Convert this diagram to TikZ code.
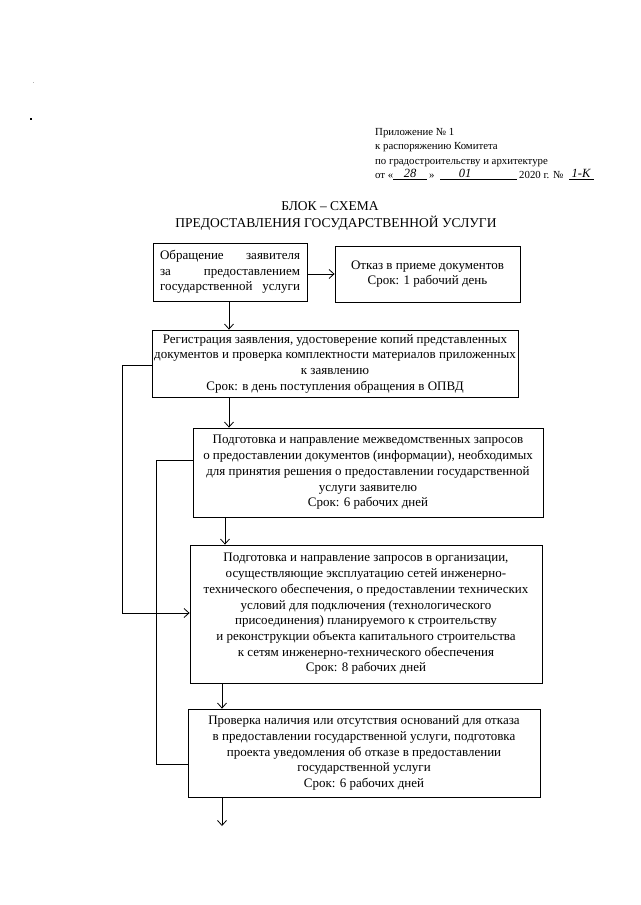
\documentclass[tikz,border=0pt]{standalone}
\usepackage{fontspec}
\setmainfont{Liberation Serif}
\usetikzlibrary{arrows.meta}
\tikzset{
  box/.style={draw, line width=0.8pt, align=center, font=\fontsize{13}{15.7}\selectfont, inner sep=2pt},
  conn/.style={line width=0.8pt},
  arr/.style={line width=0.8pt, -{Straight Barb[length=5pt,width=9pt]}},
  hdr/.style={anchor=base west, font=\fontsize{10.8}{12}\selectfont, inner sep=0pt},
  hand/.style={anchor=base, font=\itshape\fontsize{12.5}{12}\selectfont, inner sep=0pt},
  ttl/.style={anchor=base, font=\fontsize{13.5}{16}\selectfont, inner sep=0pt}
}
\begin{document}
\begin{tikzpicture}[x=1pt,y=-1pt]
\useasboundingbox[fill=white] (0,0) rectangle (640,905);
% scan specks
\fill[gray!60] (32.5,81.5) rectangle (34,83);
\fill[black] (29.5,117.5) rectangle (31.5,119.5);
% header
\node[hdr] (h1) at (375,135) {Приложение № 1};
\node[hdr] (h2) at (375,149.5) {к распоряжению Комитета};
\node[hdr] (h3) at (375,164) {по градостроительству и архитектуре};
\node[hdr] (h4) at (375,178) {от «};
\draw[conn,line width=0.5pt] (393,179.5) -- (427,179.5);
\node[hand] (d1) at (410,177) {28};
\node[hdr] (h5) at (429,178) {»};
\draw[conn,line width=0.5pt] (440,179.5) -- (517,179.5);
\node[hand] (d2) at (465,177) {01};
\node[hdr] (h6) at (519,178) {2020 г. №};
\draw[conn,line width=0.5pt] (569,179.5) -- (594,179.5);
\node[hand] (d3) at (581,177) {1-К};
% title
\node[ttl] (t1) at (330,210) {БЛОК – СХЕМА};
\node[ttl] (t2) at (336,227) {ПРЕДОСТАВЛЕНИЯ ГОСУДАРСТВЕННОЙ УСЛУГИ};
% boxes
\node[box, minimum width=154pt, minimum height=58pt, align=left] (b1) at (230,272)
 {\makebox[140pt][s]{Обращение заявителя}\\\makebox[140pt][s]{за предоставлением}\\\makebox[140pt][s]{государственной услуги}};
\node[box, minimum width=185pt, minimum height=56pt] (b1r) at (427.5,274)
 {Отказ в приеме документов\\Срок: 1 рабочий день};
\node[box, minimum width=366pt, minimum height=67pt] (b2) at (335,363.5)
 {Регистрация заявления, удостоверение копий представленных\\документов и проверка комплектности материалов приложенных\\к заявлению\\Срок: в день поступления обращения в ОПВД};
\node[box, minimum width=350pt, minimum height=89pt] (b3) at (368,472.5)
 {Подготовка и направление межведомственных запросов\\о предоставлении документов (информации), необходимых\\для принятия решения о предоставлении государственной\\услуги заявителю\\Срок: 6 рабочих дней};
\node[box, minimum width=352pt, minimum height=138pt] (b4) at (366,614)
 {Подготовка и направление запросов в организации,\\осуществляющие эксплуатацию сетей инженерно-\\технического обеспечения, о предоставлении технических\\условий для подключения (технологического\\присоединения) планируемого к строительству\\и реконструкции объекта капитального строительства\\к сетям инженерно-технического обеспечения\\Срок: 8 рабочих дней};
\node[box, minimum width=352pt, minimum height=88pt] (b5) at (364,753)
 {Проверка наличия или отсутствия оснований для отказа\\в предоставлении государственной услуги, подготовка\\проекта уведомления об отказе в предоставлении\\государственной услуги\\Срок: 6 рабочих дней};
% connectors
\coordinate (end) at (222,826);
\draw[arr] (b1.east |- 0,274) -- (b1r.west |- 0,274);
\draw[arr] (b1.south -| 229,0) -- (b2.north -| 229,0);
\draw[arr] (b2.south -| 229,0) -- (b3.north -| 229,0);
\draw[arr] (b3.south -| 225,0) -- (b4.north -| 225,0);
\draw[arr] (b4.south -| 222,0) -- (b5.north -| 222,0);
\draw[arr] (b5.south -| 222,0) -- (end);
\draw[arr] (b2.west |- 0,365) -| (122,613) -- (b4.west |- 0,613);
\draw[conn] (b3.west |- 0,460) -| (156,764) -- (b5.west |- 0,764);
\end{tikzpicture}
\end{document}
